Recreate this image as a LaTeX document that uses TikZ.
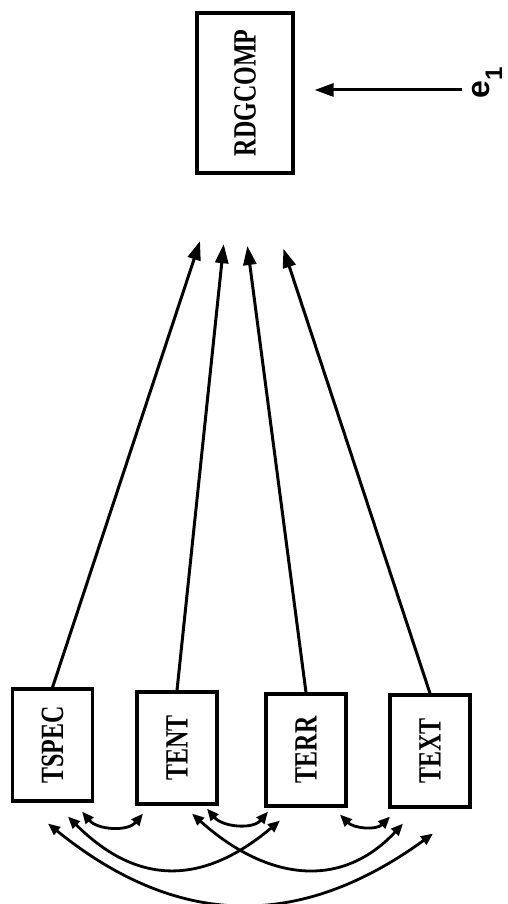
\documentclass[tikz,border=0pt]{standalone}
\usepackage{fontspec}
\setmainfont{Liberation Serif}
\newfontfamily\errfont{Liberation Sans}
\usepackage{tikz}
\usetikzlibrary{arrows.meta, positioning}

% rotated, slightly stretched box label
\newcommand{\vlabel}[1]{\rotatebox{90}{\scalebox{1}[1.35]{#1}}}

\begin{document}
\begin{tikzpicture}[x=1pt, y=1pt,
  vbox/.style={draw, line width=3.2pt, minimum width=80pt, minimum height=112pt,
               inner sep=0pt, font=\fontsize{24}{24}\selectfont\bfseries},
  causal/.style={line width=3pt, -{Triangle[length=19pt, width=13pt]}, shorten >=#1},
  causal/.default=0pt,
  corr/.style={line width=2.8pt, >={Triangle[length=12pt, width=10pt]}, <->}
]
\useasboundingbox (0,0) rectangle (508,904);

% Outcome and its error
\node[vbox, minimum width=96pt, minimum height=160pt] (rdgcomp) at (245,811) {\vlabel{RDGCOMP}};
\node[rotate=90, anchor=base, inner sep=0pt, font=\errfont\bfseries\fontsize{32}{32}\selectfont]
  (e1) at (489,821) {e\raisebox{-13pt}{\fontsize{24}{24}\selectfont 1}};

% Predictors
\node[vbox] (tspec) at (52.5,159) {\vlabel{TSPEC}};
\node[vbox] (tent)  at (177,156)  {\vlabel{TENT}};
\node[vbox] (terr)  at (306,154)  {\vlabel{TERR}};
\node[vbox] (ttext) at (430,153)  {\vlabel{TEXT}};

% Paths to the outcome
\foreach \src/\dx/\cut in {tspec/-23pt/70pt, tent/-14pt/70pt, terr/-7pt/72pt, ttext/14pt/78pt}{
  \draw[causal=\cut] (\src.north) -- ([xshift=\dx]rdgcomp.south);
}
\draw[causal=20pt, shorten <=10pt] ([yshift=-7pt]e1.north) -- ([yshift=3pt]rdgcomp.east);

% Correlations among predictors
\draw[corr] ([xshift=29.5pt,yshift=-9pt]tspec.south) to[out=-50, in=-130] ([xshift=-34pt,yshift=-8pt]tent.south);
\draw[corr] ([xshift=30pt,yshift=-3pt]tent.south) to[out=-50, in=-130] ([xshift=-38pt,yshift=-4pt]terr.south);
\draw[corr] ([xshift=34pt,yshift=-7pt]terr.south) to[out=-45, in=-135] ([xshift=-40pt,yshift=-8pt]ttext.south);
\draw[corr] ([xshift=15.5pt,yshift=-14pt]tspec.south) to[out=-45, in=-140, looseness=1.2] ([xshift=-26pt,yshift=-13pt]terr.south);
\draw[corr] ([xshift=15pt,yshift=-8pt]tent.south) to[out=-42, in=-133, looseness=1.15] ([xshift=-27pt,yshift=-15pt]ttext.south);
\draw[corr] ([xshift=-4.5pt,yshift=-21pt]tspec.south) to[out=-39, in=-144, looseness=1.1] ([xshift=3pt,yshift=-25pt]ttext.south);

\end{tikzpicture}
\end{document}
